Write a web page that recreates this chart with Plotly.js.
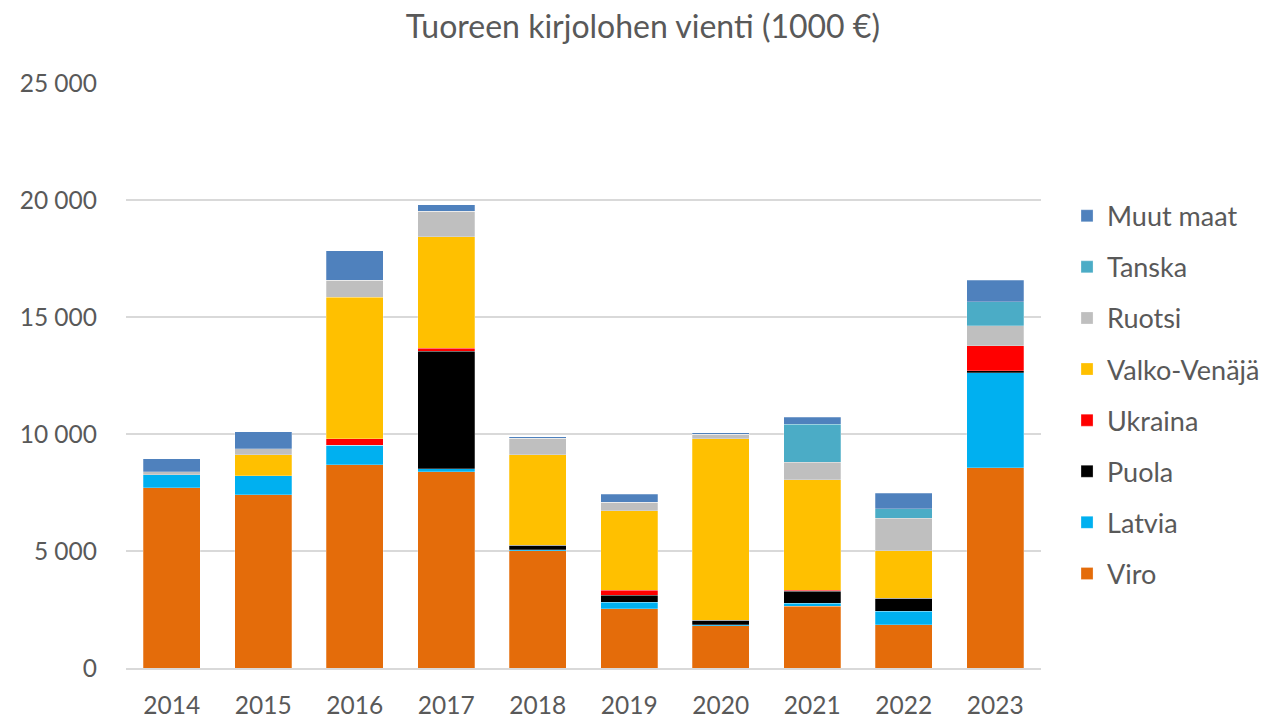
<!DOCTYPE html>
<html><head><meta charset="utf-8">
<script src="https://cdn.plot.ly/plotly-3.0.1.min.js"></script>
<style>html,body{margin:0;padding:0;background:#fff}#c{width:1268px;height:718px}</style>
</head><body><div id="c"></div>
<script>
const years = ["2014","2015","2016","2017","2018","2019","2020","2021","2022","2023"];
const viro      = [7700, 7410, 8680, 8390, 5010, 2530, 1800, 2630, 1840, 8550];
const latvia    = [560, 800, 840, 115, 45, 290, 55, 130, 580, 4070];
const puola     = [0, 0, 0, 5030, 200, 280, 180, 510, 555, 75];
const ukraina   = [0, 0, 285, 130, 0, 215, 0, 45, 0, 1080];
const valko     = [0, 910, 6040, 4775, 3860, 3405, 7765, 4720, 2040, 0];
const ruotsi    = [130, 245, 725, 1080, 700, 355, 200, 750, 1380, 855];
const tanska    = [0, 0, 0, 0, 0, 0, 0, 1625, 415, 1025];
const muut      = [560, 725, 1255, 285, 60, 340, 45, 300, 655, 910];
const seriesNames = ["Viro","Latvia","Puola","Ukraina","Valko-Venäjä","Ruotsi","Tanska","Muut maat"];
const seriesData = [viro, latvia, puola, ukraina, valko, ruotsi, tanska, muut];
const colors = ["#E46C0A","#00B0F0","#000000","#FF0000","#FFC000","#BFBFBF","#4BACC6","#4F81BD"];
const yTicks = [0,5000,10000,15000,20000,25000];
const yTickText = ["0","5 000","10 000","15 000","20 000","25 000"];

const traces = seriesNames.map((n,i)=>({
  type:'bar', name:n, x:years, y:seriesData[i], legendgroup:'g'+i,
  legendrank: 1000 - i,
  marker:{color:colors[i], line:{color:'rgba(255,255,255,0.5)', width:0.5}},
  hoverinfo:'x+y+name'
}));
const font = "Lato, 'Open Sans', sans-serif";
const layout = {
  width:1268, height:718, barmode:'stack', bargap:0.38,
  paper_bgcolor:'#fff', plot_bgcolor:'#fff',
  margin:{l:126, r:227, t:83, b:50},
  font:{family:font, color:'#595959', size:24},
  title:{text:'Tuoreen kirjolohen vienti (1000 €)', x:0.507, xanchor:'center', y:0.962, yanchor:'middle', font:{size:32, color:'#595959', family:font}},
  xaxis:{type:'category', tickfont:{size:24.5, color:'#595959'}, showline:true, linecolor:'#D9D9D9', linewidth:1.5, ticks:'', showgrid:false, ticklabelstandoff:15},
  yaxis:{range:[0,25000], tickvals:yTicks, ticktext:yTickText, tickfont:{size:24.5, color:'#595959'}, gridcolor:'#D9D9D9', gridwidth:1.5, zeroline:false, ticks:'', ticklabelstandoff:28, showline:false},
  legend:{xref:'container', yref:'container', x:0.8415, xanchor:'left', y:0.733, yanchor:'top', maxheight:600, traceorder:'grouped', tracegroupgap:13, font:{size:27, color:'#595959'}, itemwidth:30},
  showlegend:true
};
Plotly.newPlot('c', traces, layout, {displayModeBar:false, staticPlot:true});
</script></body></html>
